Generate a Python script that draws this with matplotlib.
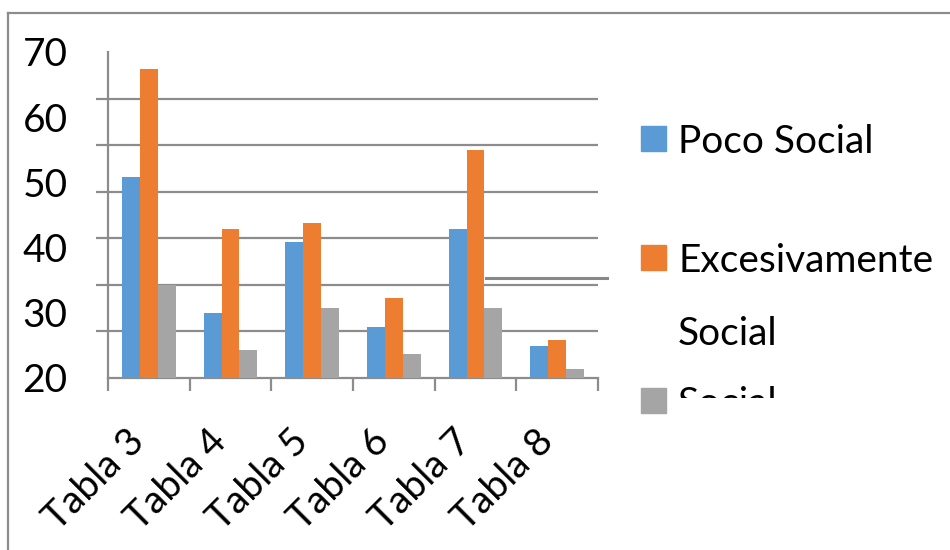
import matplotlib.pyplot as plt
import matplotlib.transforms as mtransforms
from matplotlib.lines import Line2D
from matplotlib.patches import Rectangle
from matplotlib.transforms import Bbox
import numpy as np

# data (label scale 20..70)
tablas = ["Tabla 3", "Tabla 4", "Tabla 5", "Tabla 6", "Tabla 7", "Tabla 8"]
poco_social = [50.8, 30.0, 40.9, 27.8, 42.9, 24.9]
excesivamente_social = [67.4, 42.9, 43.8, 32.3, 55.0, 25.8]
social = [34.2, 24.3, 30.8, 23.7, 30.8, 21.4]
series_names = ["Poco Social", "Excesivamente Social", "Social"]
y_labels = [20, 30, 40, 50, 60, 70]

colors = ["#5B9BD5", "#ED7D31", "#A5A5A5"]
grid_col = "#8c8c8c"

plt.rcParams['font.family'] = ['Lato', 'DejaVu Sans']
plt.rcParams['font.size'] = 28

fig = plt.figure(figsize=(9.5, 5.5), dpi=100)
ax = fig.add_axes([108/950, 172/550, 490/950, 326/550])

x = np.arange(len(tablas))
w = 0.22
for i, vals in enumerate([poco_social, excesivamente_social, social]):
    ax.bar(x + (i - 1) * w, vals, width=w, color=colors[i], zorder=3)

ax.set_xlim(-0.5, len(tablas) - 0.5)
ax.set_ylim(20, 70)

# gridlines (7 equal steps) drawn as minor ticks, labels as major ticks
grid_pos = np.linspace(20, 70, 8)
ax.set_yticks(grid_pos, minor=True)
ax.yaxis.grid(True, which='minor', color=grid_col, linewidth=1.6, zorder=0)
ax.tick_params(axis='y', which='minor', length=9, width=1.6, color=grid_col, direction='out')
ax.set_yticks(y_labels)
ax.set_yticklabels([str(v) for v in y_labels])
ax.tick_params(axis='y', which='major', length=0, pad=29)

ax.set_xticks(x)
ax.set_xticks(np.arange(len(tablas) + 1) - 0.5, minor=True)
ax.tick_params(axis='x', which='minor', length=9, width=1.6, color=grid_col, direction='out')
ax.tick_params(axis='x', which='major', length=0, pad=0)
ax.set_xticklabels(tablas, rotation=45, ha='right', va='baseline', rotation_mode='anchor')
off = mtransforms.ScaledTranslation(-2/100, -66/100, fig.dpi_scale_trans)
for lab in ax.get_xticklabels():
    lab.set_transform(lab.get_transform() + off)

for s in ['top', 'right']:
    ax.spines[s].set_visible(False)
for s in ['left', 'bottom']:
    ax.spines[s].set_color(grid_col)
    ax.spines[s].set_linewidth(1.6)

# legend drawn by hand, clipped at the bottom like the reference
clip = Bbox([[600, 152], [950, 550]])
leg_rows = [153, 272, 415]
for i, name in enumerate(series_names):
    base = leg_rows[i]
    fig.patches.append(Rectangle((641/950, (550 - base + 2)/550), 25/950, 25/550,
                                 transform=fig.transFigure, color=colors[i]))
    lines = [name] if i != 1 else name.split(" ")
    for k, line in enumerate(lines):
        t = fig.text(678/950, (550 - base - 73 * k)/550, line, va='baseline', ha='left')
        t.set_clip_box(clip)
        t.set_clip_on(True)

# chart frame and stray line
fig.add_artist(Line2D([8/950, 1], [537/550, 537/550], color=grid_col, lw=1.6, transform=fig.transFigure))
fig.add_artist(Line2D([8/950, 8/950], [0, 537/550], color=grid_col, lw=1.6, transform=fig.transFigure))
fig.add_artist(Line2D([486/950, 607/950], [272/550, 272/550], color="#888888", lw=2.2, transform=fig.transFigure))

fig.savefig("out.png", dpi=100)
